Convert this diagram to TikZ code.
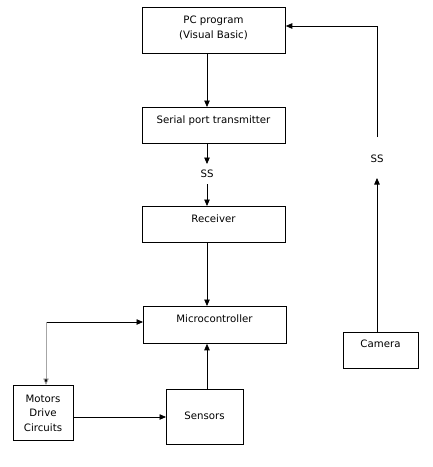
\documentclass[tikz,border=0pt]{standalone}
\usepackage{fontspec}
\setmainfont{DejaVu Sans}
\usetikzlibrary{arrows.meta}
\begin{document}
\begin{tikzpicture}[x=1pt,y=-1pt,
  blk/.style={draw,line width=0.8pt,inner sep=0pt,anchor=north west},
  lbl/.style={font=\fontsize{10.2}{14.5}\selectfont,align=center,inner sep=0pt},
  arr/.style={line width=0.8pt,-{Triangle[length=6.5pt,width=5.5pt]}},
  ln/.style={line width=0.8pt}]
\useasboundingbox (0,0) rectangle (433,467);
% boxes
\node[blk,minimum width=143,minimum height=46] (pc) at (142,7) {};
\node[lbl] (tpc) at (213.5,28) {PC program\\(Visual Basic)};
\node[blk,minimum width=143,minimum height=36] (sp) at (142,107) {};
\node[lbl] (tsp) at (213.5,121) {Serial port transmitter};
\node[blk,minimum width=143,minimum height=36] (rx) at (142,206) {};
\node[lbl] (trx) at (213.5,219) {Receiver};
\node[blk,minimum width=143,minimum height=37] (mc) at (143,306) {};
\node[lbl] (tmc) at (214.5,319) {Microcontroller};
\node[blk,minimum width=60,minimum height=55] (md) at (13,385) {};
\node[lbl] (tmd) at (43,413) {Motors\\Drive\\Circuits};
\node[blk,minimum width=77,minimum height=55] (se) at (166,389) {};
\node[lbl] (tse) at (204.5,416) {Sensors};
\node[blk,minimum width=75,minimum height=36] (ca) at (343,332) {};
\node[lbl] (tca) at (380.5,344) {Camera};
% SS labels
\node[lbl] (ss1) at (207,174) {SS};
\node[lbl] (ss2) at (377,159) {SS};
% connectors
\draw[arr] (pc.south -| 207,0) -- (sp.north -| 207,0);
\draw[arr] (sp.south -| 207,0) -- (207,164);
\draw[arr] (207,184) -- (rx.north -| 207,0);
\draw[arr] (rx.south -| 207,0) -- (mc.north -| 207,0);
\draw[arr] (se.north -| 207,0) -- (mc.south -| 207,0);
\draw[arr] (md.east |- 0,417) -- (se.west |- 0,417);
\coordinate (c1) at (46,322);
\draw[arr] (c1) -- (mc.west |- c1);
\draw[arr,draw=gray!70,-{Triangle[length=6.5pt,width=5.5pt,fill=black]}] (c1) -- (md.north -| c1);
\draw[arr] (ca.north -| 377,0) -- (377,178);
\coordinate (c2) at (377,26);
\draw[ln] (377,137) -- (c2);
\draw[arr] (c2) -- (pc.east |- c2);
\end{tikzpicture}
\end{document}
